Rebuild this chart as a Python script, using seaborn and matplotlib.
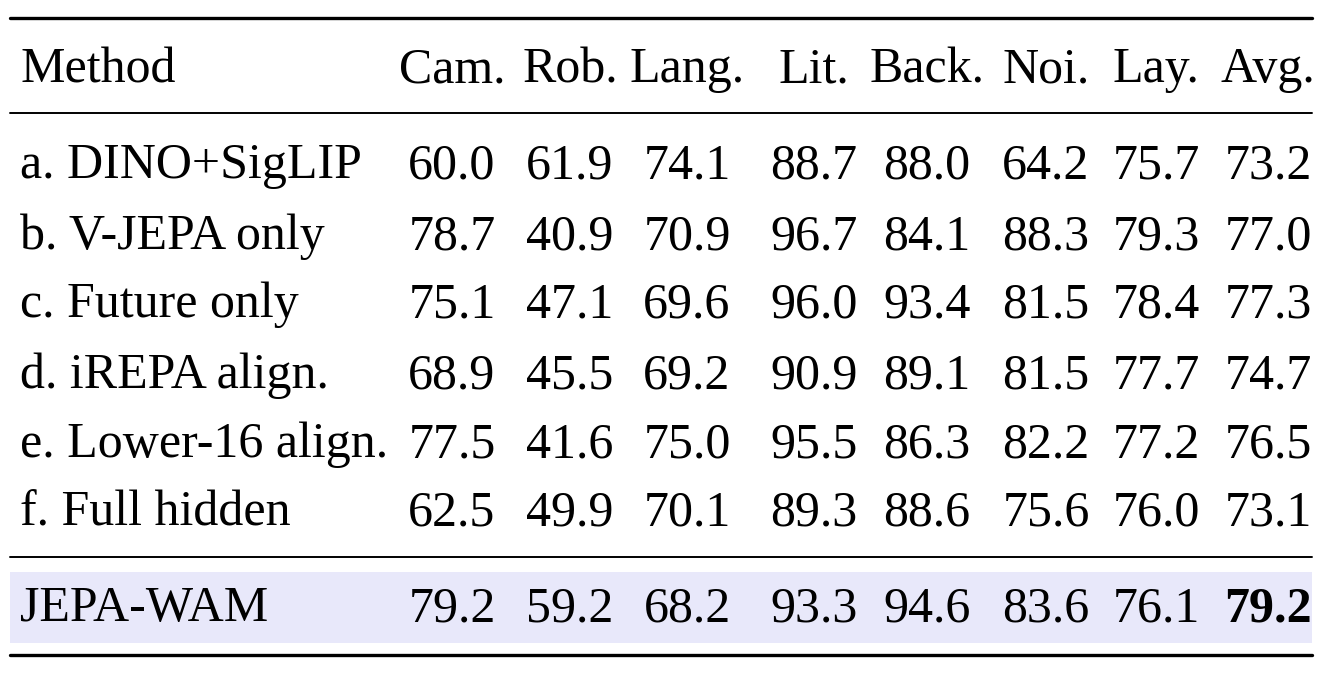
import matplotlib
matplotlib.use("Agg")
import matplotlib.pyplot as plt
import seaborn as sns

sns.set_theme(style="white")
plt.rcParams['font.family'] = ['Liberation Serif', 'DejaVu Serif']
plt.rcParams['text.color'] = 'black'

columns = ["Cam.", "Rob.", "Lang.", "Lit.", "Back.", "Noi.", "Lay.", "Avg."]
methods = ["a. DINO+SigLIP", "b. V-JEPA only", "c. Future only", "d. iREPA align.",
           "e. Lower-16 align.", "f. Full hidden"]
values = [
    [60.0, 61.9, 74.1, 88.7, 88.0, 64.2, 75.7, 73.2],
    [78.7, 40.9, 70.9, 96.7, 84.1, 88.3, 79.3, 77.0],
    [75.1, 47.1, 69.6, 96.0, 93.4, 81.5, 78.4, 77.3],
    [68.9, 45.5, 69.2, 90.9, 89.1, 81.5, 77.7, 74.7],
    [77.5, 41.6, 75.0, 95.5, 86.3, 82.2, 77.2, 76.5],
    [62.5, 49.9, 70.1, 89.3, 88.6, 75.6, 76.0, 73.1],
]
ours_name = "JEPA-WAM"
ours_values = [79.2, 59.2, 68.2, 93.3, 94.6, 83.6, 76.1, 79.2]

W, H = 1337, 674
fig = plt.figure(figsize=(W / 100, H / 100), dpi=100)
ax = fig.add_axes([0, 0, 1, 1])
ax.set_xlim(0, W)
ax.set_ylim(H, 0)
ax.axis("off")

fs = 36
col_x = [452, 570, 687, 814, 927, 1046, 1156, 1268]
left, right = 10, 1312
dy = 3

ax.add_patch(plt.Rectangle((left, 572), right - left, 71, color="#E8E8FA", lw=0))
ax.plot([left, right], [18, 18], color="black", lw=2.4)
ax.plot([left, right], [113, 113], color="black", lw=1.4)
ax.plot([left, right], [557, 557], color="black", lw=1.4)
ax.plot([left, right], [655, 655], color="black", lw=2.4)

ax.text(20, 67 + dy, "Method", fontsize=fs, ha="left", va="center")
for x, c in zip(col_x, columns):
    ax.text(x, 67 + dy, c, fontsize=fs, ha="center", va="center")

row_y = [163, 234, 302, 373, 442, 510]
for y, m, vals in zip(row_y, methods, values):
    ax.text(20, y + dy, m, fontsize=fs, ha="left", va="center")
    for x, v in zip(col_x, vals):
        ax.text(x, y + dy, f"{v:.1f}", fontsize=fs, ha="center", va="center")

ax.text(20, 606 + dy, ours_name, fontsize=fs, ha="left", va="center")
for i, (x, v) in enumerate(zip(col_x, ours_values)):
    ax.text(x, 606 + dy, f"{v:.1f}", fontsize=fs, ha="center", va="center",
            fontweight="bold" if i == len(ours_values) - 1 else "normal")

fig.savefig("out.png", dpi=100, facecolor="white")
